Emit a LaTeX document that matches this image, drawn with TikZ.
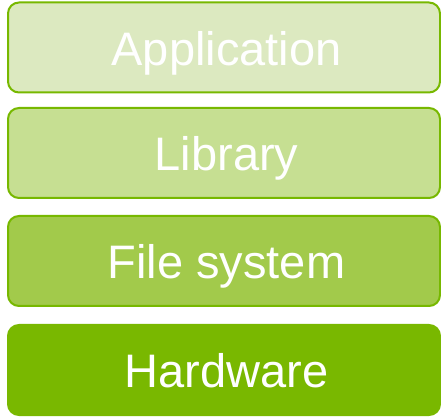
\documentclass[tikz,border=0pt]{standalone}
\usepackage{fontspec}
\setmainfont{Liberation Sans}
\definecolor{edgegreen}{HTML}{77B800}
\definecolor{layerA}{HTML}{DCE9C0}
\definecolor{layerB}{HTML}{C6DF92}
\definecolor{layerC}{HTML}{A2CA4B}
\definecolor{layerD}{HTML}{79B800}
\begin{document}
\begin{tikzpicture}[x=1pt,y=1pt,
  layer/.style={draw=edgegreen, line width=2pt, rounded corners=11pt,
    minimum width=432pt, inner sep=0pt, text height=63pt, text depth=27pt,
    text=white, font=\fontsize{47}{50}\selectfont,
    execute at begin node=\hspace*{5pt}}]
\useasboundingbox (0,0) rectangle (441,417);
\node[layer, fill=layerA] (app) at (224,369.5) {Application};
\node[layer, fill=layerB] (lib) at (224,264) {Library};
\node[layer, fill=layerC] (fs) at (224,156) {File system};
\node[layer, fill=layerD, draw=layerD] (hw) at (224,47) {Hardware};
\end{tikzpicture}
\end{document}
